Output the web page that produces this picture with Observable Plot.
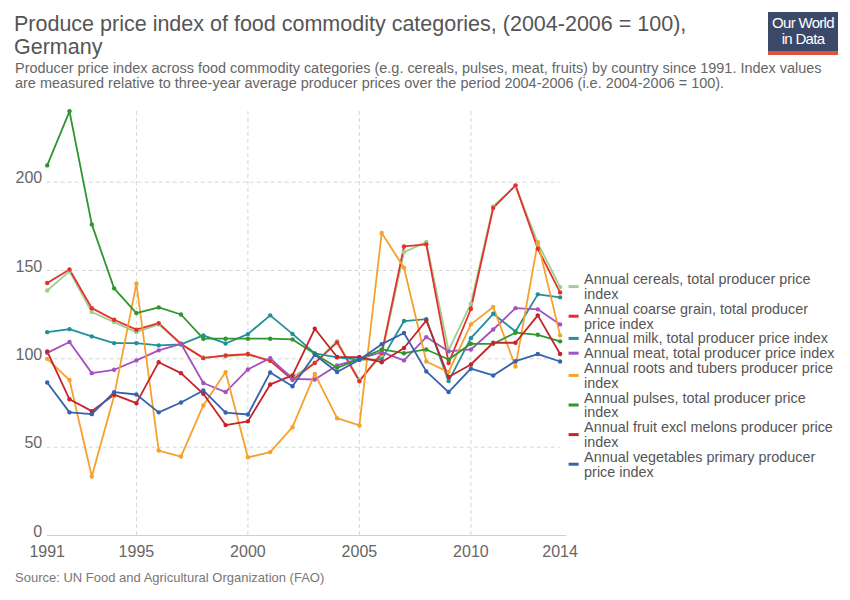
<!DOCTYPE html>
<html>
<head>
<meta charset="utf-8">
<script src="https://cdn.jsdelivr.net/npm/d3@7"></script>
<script src="https://cdn.jsdelivr.net/npm/@observablehq/plot@0.6"></script>
<style>
  body { margin: 0; background: #fff; font-family: "Liberation Sans", Arial, sans-serif; }
  #wrap { position: relative; width: 850px; height: 600px; overflow: hidden; background: #fff; }
  #title { position: absolute; left: 14px; top: 13px; font-size: 21.5px; line-height: 23px; color: #555; }
  #subtitle { position: absolute; left: 15px; top: 60.5px; font-size: 14.45px; line-height: 15.5px; color: #666; width: 825px; }
  #logo { position: absolute; left: 768px; top: 12px; width: 70px; height: 43px; background: #3b4868; border-bottom: 4px solid #e0533b; box-sizing: border-box; color: #fff; text-align: center; font-size: 15px; line-height: 16px; letter-spacing: -0.7px; padding-top: 3px; }
  #chart { position: absolute; left: 0; top: 95px; }
  #source { position: absolute; left: 15px; top: 570px; font-size: 13px; color: #777; }
</style>
</head>
<body>
<div id="wrap">
  <div id="title">Produce price index of food commodity categories, (2004-2006 = 100),<br>Germany</div>
  <div id="subtitle">Producer price index across food commodity categories (e.g. cereals, pulses, meat, fruits) by country since 1991. Index values are measured relative to three-year average producer prices over the period 2004-2006 (i.e. 2004-2006 = 100).</div>
  <div id="logo">Our World<br>in Data</div>
  <div id="chart"></div>
  <div id="source">Source: UN Food and Agricultural Organization (FAO)</div>
</div>
<script>
const years = d3.range(1991, 2015);

const cereals     = [138.7, 149.5, 126.5, 120.8, 115.1, 119.5, 108.0, 100.8, 101.5, 102.3, 98.9, 89.7, 97.8, 110.0, 88.0, 102.0, 160.4, 166.1, 104.8, 131.2, 186.3, 198.0, 165.5, 140.6];
const coarseGrain = [142.9, 150.6, 128.7, 122.1, 116.5, 120.2, 108.5, 100.4, 101.9, 102.7, 98.9, 88.1, 97.6, 109.3, 87.3, 103.2, 163.6, 164.8, 97.6, 128.2, 185.4, 198.2, 162.3, 137.6];
const milk        = [115.1, 116.8, 112.7, 108.9, 108.9, 107.6, 108.2, 113.3, 108.7, 114.0, 124.6, 114.1, 103.1, 100.8, 99.5, 99.7, 121.4, 122.5, 87.4, 111.7, 125.5, 115.5, 136.5, 134.8];
const meat        = [103.4, 109.5, 91.9, 93.8, 99.1, 104.8, 108.5, 86.3, 81.2, 94.0, 100.4, 88.7, 88.3, 96.3, 100.0, 103.8, 99.1, 112.3, 104.2, 105.3, 116.6, 128.7, 128.0, 119.5];
const roots       = [100.0, 88.0, 33.4, 79.0, 142.5, 48.1, 44.7, 73.6, 92.5, 44.2, 47.2, 61.3, 91.5, 66.4, 62.3, 171.2, 151.6, 98.5, 92.5, 119.5, 129.3, 95.7, 166.0, 113.3];
const pulses      = [209.5, 240.1, 176.1, 139.9, 125.9, 129.1, 125.1, 111.4, 111.4, 111.4, 111.4, 111.0, 102.9, 94.9, 100.0, 105.3, 103.2, 105.3, 99.6, 108.5, 108.5, 114.8, 113.6, 109.9];
const fruit       = [104.2, 77.1, 70.4, 79.7, 74.9, 98.1, 91.9, 80.2, 62.5, 64.6, 85.5, 90.6, 117.0, 101.0, 101.0, 98.1, 106.1, 121.7, 89.7, 96.8, 109.1, 109.1, 124.6, 102.7];
const vegetables  = [86.6, 69.7, 68.7, 81.1, 79.8, 69.7, 75.3, 82.1, 69.6, 68.5, 92.3, 84.5, 102.3, 92.5, 99.5, 108.3, 114.6, 92.9, 81.2, 94.4, 90.6, 98.7, 102.7, 98.5];

const seriesNames = [
  "Annual cereals, total producer price index",
  "Annual coarse grain, total producer price index",
  "Annual milk, total producer price index",
  "Annual meat, total producer price index",
  "Annual roots and tubers producer price index",
  "Annual pulses, total producer price index",
  "Annual fruit excl melons producer price index",
  "Annual vegetables primary producer price index"
];
const legendLines = [
  ["Annual cereals, total producer price", "index"],
  ["Annual coarse grain, total producer", "price index"],
  ["Annual milk, total producer price index"],
  ["Annual meat, total producer price index"],
  ["Annual roots and tubers producer price", "index"],
  ["Annual pulses, total producer price", "index"],
  ["Annual fruit excl melons producer price", "index"],
  ["Annual vegetables primary producer", "price index"]
];
const seriesValues = [cereals, coarseGrain, milk, meat, roots, pulses, fruit, vegetables];
const seriesColors = ["#9dcf8e", "#e5302d", "#22909a", "#a452bf", "#f6a12b", "#2e962f", "#c5232a", "#3563ad"];
const xTicks = [1991, 1995, 2000, 2005, 2010, 2014];
const xGrid = [1995, 2000, 2005, 2010];
const yTicks = [0, 50, 100, 150, 200];
const yGrid = [50, 100, 150, 200];

const rows = seriesNames.flatMap((name, s) =>
  years.map((year, i) => ({series: name, year, value: seriesValues[s][i]})));

const font = "'Liberation Sans', Arial, sans-serif";

const plot = Plot.plot({
  width: 850,
  height: 470,
  marginTop: 16,
  marginRight: 290.4,
  marginBottom: 30,
  marginLeft: 46.7,
  style: {fontFamily: font, fontSize: "16px", color: "#666", background: "transparent", overflow: "visible"},
  x: {type: "linear", domain: [1991, 2014]},
  y: {domain: [0, 240]},
  color: {domain: seriesNames, range: seriesColors},
  marks: [
    Plot.ruleX(xGrid, {stroke: "#d6d6d6", strokeDasharray: "4,3", strokeWidth: 1}),
    Plot.ruleY(yGrid, {x1: 1991, x2: 2014, stroke: "#d6d6d6", strokeDasharray: "4,3", strokeWidth: 1}),
    Plot.ruleY([0], {x1: 1991, x2: 2014.3, stroke: "#cfcfcf", strokeWidth: 1}),
    Plot.axisY(yTicks, {tickSize: 0, tickPadding: 5, dy: -4, fill: "#666", label: null}),
    Plot.axisX(xTicks, {tickSize: 0, tickPadding: 10, tickFormat: d => `${d}`, fill: "#666", label: null}),
    Plot.line(rows, {x: "year", y: "value", z: "series", stroke: "series", strokeWidth: 1.8}),
    Plot.dot(rows, {x: "year", y: "value", fill: "series", r: 2.2})
  ]
});

document.getElementById("chart").appendChild(plot);

// Legend placed at the end of each line, pushed down to avoid overlaps
const ys = plot.scale("y");
const yScale = d3.scaleLinear().domain(ys.domain).range(ys.range);
const xs = plot.scale("x");
const xScale = d3.scaleLinear().domain(xs.domain).range(xs.range);
const lh = 14.8;
const entries = seriesNames.map((n, i) => ({
  i,
  ideal: yScale(seriesValues[i][seriesValues[i].length - 1]),
  h: legendLines[i].length * lh
})).sort((a, b) => a.ideal - b.ideal);
let prevBottom = -Infinity;
entries.forEach(e => {
  e.top = Math.max(e.ideal - e.h / 2, prevBottom);
  prevBottom = e.top + e.h;
});
const x0 = xScale(2014);
const g = d3.select(plot).append("g")
  .attr("font-family", font)
  .attr("font-size", "14.4px")
  .attr("text-anchor", "start");
entries.forEach(e => {
  const cy = e.top + e.h / 2;
  g.append("line")
    .attr("x1", x0 + 9).attr("x2", x0 + 19)
    .attr("y1", cy).attr("y2", cy)
    .attr("stroke", seriesColors[e.i]).attr("stroke-width", 3);
  legendLines[e.i].forEach((line, k) => {
    g.append("text")
      .attr("x", x0 + 24.5)
      .attr("y", e.top + lh * (k + 0.5))
      .attr("dy", "0.35em")
      .attr("text-anchor", "start")
      .attr("fill", "#555")
      .text(line);
  });
});
</script>
</body>
</html>
